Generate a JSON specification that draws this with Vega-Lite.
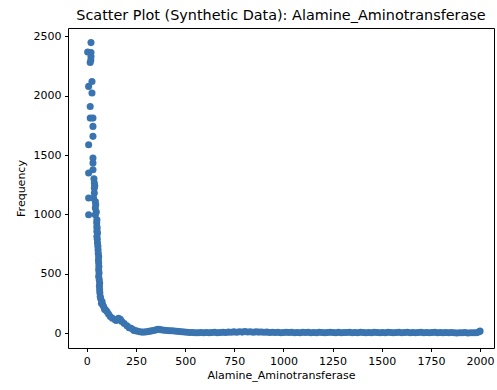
{
  "$schema": "https://vega.github.io/schema/vega-lite/v6.json",
  "width": 426,
  "height": 320,
  "autosize": {"type": "none"},
  "padding": {"left": 68, "top": 28, "right": 3, "bottom": 42},
  "title": {"text": "Scatter Plot (Synthetic Data): Alamine_Aminotransferase", "font": "DejaVu Sans", "fontSize": 14.4, "fontWeight": "normal", "color": "#000", "anchor": "middle", "offset": 5},
  "config": {
    "view": {"stroke": "#000", "strokeWidth": 1},
    "axis": {"labelFont": "DejaVu Sans", "labelFontSize": 11, "labelColor": "#000", "tickColor": "#000", "tickSize": 3.5, "tickWidth": 1, "domain": false, "grid": false, "titleFont": "DejaVu Sans", "titleFontSize": 11, "titleFontWeight": "normal", "titleColor": "#000", "labelPadding": 3.5, "format": "d"}
  },
  "data": {"values": [
    {"value": 21, "frequency": 2447}, {"value": 4, "frequency": 2368}, {"value": 21, "frequency": 2363}, {"value": 21, "frequency": 2330}, {"value": 17, "frequency": 2279}, {"value": 20, "frequency": 2300},
    {"value": 26, "frequency": 2120}, {"value": 9, "frequency": 2078}, {"value": 26, "frequency": 2022}, {"value": 17, "frequency": 1909}, {"value": 17, "frequency": 1811}, {"value": 31, "frequency": 1811}, {"value": 31, "frequency": 1741}, {"value": 31, "frequency": 1657},
    {"value": 9, "frequency": 1587}, {"value": 31, "frequency": 1474}, {"value": 31, "frequency": 1432}, {"value": 31, "frequency": 1376}, {"value": 9, "frequency": 1348}, {"value": 36, "frequency": 1300}, {"value": 38, "frequency": 1264}, {"value": 40, "frequency": 1240}, {"value": 38, "frequency": 1222}, {"value": 38, "frequency": 1180}, {"value": 9, "frequency": 1138}, {"value": 34, "frequency": 1138}, {"value": 43, "frequency": 1109}, {"value": 45, "frequency": 1080}, {"value": 43, "frequency": 1053}, {"value": 48, "frequency": 1020}, {"value": 9, "frequency": 997}, {"value": 43, "frequency": 997}, {"value": 51, "frequency": 955}, {"value": 50, "frequency": 930}, {"value": 51, "frequency": 898}, {"value": 52, "frequency": 880}, {"value": 51, "frequency": 856}, {"value": 54, "frequency": 843}, {"value": 51, "frequency": 814}, {"value": 53, "frequency": 790}, {"value": 54, "frequency": 758}, {"value": 56, "frequency": 730}, {"value": 57, "frequency": 700}, {"value": 58, "frequency": 670}, {"value": 60, "frequency": 645}, {"value": 59, "frequency": 615}, {"value": 60, "frequency": 590}, {"value": 61, "frequency": 560}, {"value": 60, "frequency": 533}, {"value": 62, "frequency": 505}, {"value": 60, "frequency": 477}, {"value": 63, "frequency": 450}, {"value": 65, "frequency": 421}, {"value": 64, "frequency": 395}, {"value": 65, "frequency": 365}, {"value": 66, "frequency": 340}, {"value": 68, "frequency": 308}, {"value": 70, "frequency": 290}, {"value": 77, "frequency": 266}, {"value": 74, "frequency": 250}, {"value": 80, "frequency": 240}, {"value": 85, "frequency": 224}, {"value": 90, "frequency": 200}, {"value": 95, "frequency": 195}, {"value": 102, "frequency": 182}, {"value": 110, "frequency": 160}, {"value": 119, "frequency": 140}, {"value": 130, "frequency": 125}, {"value": 144, "frequency": 112}, {"value": 150, "frequency": 105}, {"value": 161, "frequency": 125}, {"value": 170, "frequency": 115}, {"value": 178, "frequency": 98}, {"value": 190, "frequency": 80}, {"value": 204, "frequency": 62}, {"value": 215, "frequency": 45}, {"value": 225, "frequency": 40}, {"value": 237, "frequency": 28},
    {"value": 240, "frequency": 22}, {"value": 252, "frequency": 18}, {"value": 265, "frequency": 12}, {"value": 278, "frequency": 8}, {"value": 290, "frequency": 8}, {"value": 302, "frequency": 10}, {"value": 315, "frequency": 14}, {"value": 328, "frequency": 18}, {"value": 340, "frequency": 22}, {"value": 352, "frequency": 27}, {"value": 362, "frequency": 32}, {"value": 372, "frequency": 29}, {"value": 384, "frequency": 26}, {"value": 396, "frequency": 24}, {"value": 408, "frequency": 22}, {"value": 420, "frequency": 20}, {"value": 432, "frequency": 19}, {"value": 445, "frequency": 17}, {"value": 458, "frequency": 15}, {"value": 470, "frequency": 13}, {"value": 483, "frequency": 11}, {"value": 496, "frequency": 9}, {"value": 510, "frequency": 7}, {"value": 524, "frequency": 5}, {"value": 538, "frequency": 4}, {"value": 552, "frequency": 3}, {"value": 566, "frequency": 2}, {"value": 580, "frequency": 4}, {"value": 594, "frequency": 3}, {"value": 608, "frequency": 5}, {"value": 622, "frequency": 2}, {"value": 636, "frequency": 4}, {"value": 650, "frequency": 6}, {"value": 664, "frequency": 3}, {"value": 678, "frequency": 5}, {"value": 692, "frequency": 7}, {"value": 706, "frequency": 4}, {"value": 720, "frequency": 8}, {"value": 734, "frequency": 6}, {"value": 748, "frequency": 10}, {"value": 762, "frequency": 7}, {"value": 776, "frequency": 11}, {"value": 790, "frequency": 8}, {"value": 804, "frequency": 12}, {"value": 818, "frequency": 9}, {"value": 832, "frequency": 11}, {"value": 846, "frequency": 7}, {"value": 860, "frequency": 10}, {"value": 874, "frequency": 8}, {"value": 888, "frequency": 9}, {"value": 902, "frequency": 6}, {"value": 916, "frequency": 8}, {"value": 930, "frequency": 5}, {"value": 944, "frequency": 7}, {"value": 958, "frequency": 4}, {"value": 972, "frequency": 6}, {"value": 986, "frequency": 3}, {"value": 1000, "frequency": 5}, {"value": 1014, "frequency": 7}, {"value": 1028, "frequency": 4}, {"value": 1042, "frequency": 6}, {"value": 1056, "frequency": 3}, {"value": 1070, "frequency": 5}, {"value": 1084, "frequency": 2}, {"value": 1098, "frequency": 6}, {"value": 1112, "frequency": 4}, {"value": 1126, "frequency": 7}, {"value": 1140, "frequency": 3}, {"value": 1154, "frequency": 5}, {"value": 1168, "frequency": 2}, {"value": 1182, "frequency": 6}, {"value": 1196, "frequency": 4}, {"value": 1210, "frequency": 3}, {"value": 1224, "frequency": 5}, {"value": 1238, "frequency": 7}, {"value": 1252, "frequency": 4}, {"value": 1266, "frequency": 2}, {"value": 1280, "frequency": 6}, {"value": 1294, "frequency": 3}, {"value": 1308, "frequency": 5}, {"value": 1322, "frequency": 4}, {"value": 1336, "frequency": 6}, {"value": 1350, "frequency": 2}, {"value": 1364, "frequency": 5}, {"value": 1378, "frequency": 3}, {"value": 1392, "frequency": 7}, {"value": 1406, "frequency": 4}, {"value": 1420, "frequency": 2}, {"value": 1434, "frequency": 5}, {"value": 1448, "frequency": 3}, {"value": 1462, "frequency": 6}, {"value": 1476, "frequency": 4}, {"value": 1490, "frequency": 2}, {"value": 1504, "frequency": 5}, {"value": 1518, "frequency": 3}, {"value": 1532, "frequency": 6}, {"value": 1546, "frequency": 4}, {"value": 1560, "frequency": 2}, {"value": 1574, "frequency": 5}, {"value": 1588, "frequency": 7}, {"value": 1602, "frequency": 3}, {"value": 1616, "frequency": 4}, {"value": 1630, "frequency": 6}, {"value": 1644, "frequency": 2}, {"value": 1658, "frequency": 5}, {"value": 1672, "frequency": 3}, {"value": 1686, "frequency": 4}, {"value": 1700, "frequency": 6}, {"value": 1714, "frequency": 2}, {"value": 1728, "frequency": 5}, {"value": 1742, "frequency": 3}, {"value": 1756, "frequency": 4}, {"value": 1770, "frequency": 6}, {"value": 1784, "frequency": 2}, {"value": 1798, "frequency": 4}, {"value": 1812, "frequency": 3}, {"value": 1826, "frequency": 5}, {"value": 1840, "frequency": 2}, {"value": 1854, "frequency": 4}, {"value": 1868, "frequency": 3}, {"value": 1882, "frequency": 1}, {"value": 1896, "frequency": 3}, {"value": 1910, "frequency": 2}, {"value": 1924, "frequency": 4}, {"value": 1938, "frequency": 1}, {"value": 1952, "frequency": 3}, {"value": 1966, "frequency": 2}, {"value": 1980, "frequency": 3}, {"value": 1992, "frequency": 8}, {"value": 2000, "frequency": 16}
  ]},
  "mark": {"type": "circle", "size": 50, "color": "#3a74b0", "opacity": 1},
  "encoding": {
    "x": {"field": "value", "type": "quantitative", "scale": {"domain": [-96, 2071], "nice": false, "zero": false}, "axis": {"values": [0, 250, 500, 750, 1000, 1250, 1500, 1750, 2000], "title": "Alamine_Aminotransferase", "titlePadding": 3}},
    "y": {"field": "frequency", "type": "quantitative", "scale": {"domain": [-126, 2570], "nice": false, "zero": false}, "axis": {"values": [0, 500, 1000, 1500, 2000, 2500], "title": "Frequency", "titlePadding": 7}}
  }
}
